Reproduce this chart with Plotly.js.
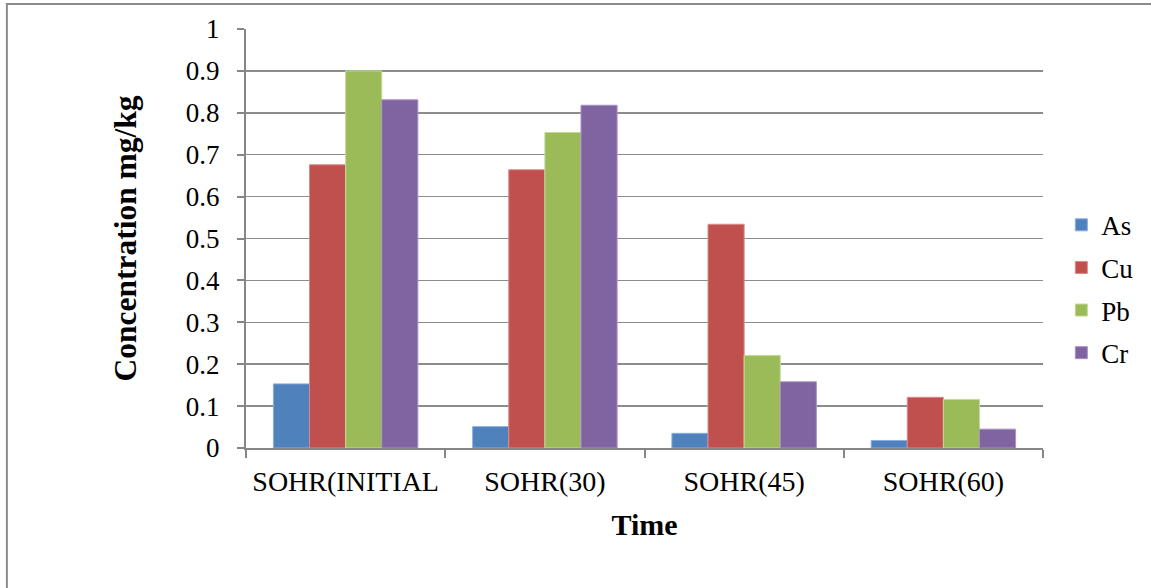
<!DOCTYPE html>
<html>
<head>
<meta charset="utf-8">
<script src="https://cdn.plot.ly/plotly-3.0.1.min.js"></script>
<style>
  html, body { margin: 0; padding: 0; background: #fff; }
  #chart { width: 1151px; height: 588px; }
</style>
</head>
<body>
<div id="chart"></div>
<script>
// Sampling times
const categories = ['SOHR(INITIAL', 'SOHR(30)', 'SOHR(45)', 'SOHR(60)'];

// Heavy-metal concentrations (mg/kg)
const asValues = [0.153, 0.051, 0.035, 0.018];
const cuValues = [0.676, 0.664, 0.534, 0.121];
const pbValues = [0.900, 0.753, 0.221, 0.116];
const crValues = [0.831, 0.818, 0.158, 0.045];

const seriesNames = ['As', 'Cu', 'Pb', 'Cr'];
const seriesValues = [asValues, cuValues, pbValues, crValues];
const fills = ['#4F81BD', '#C0504D', '#9BBB59', '#8064A2'];
const edges = ['#8aaee0', '#d98a88', '#c2da98', '#a993c6'];

const serif = '"Liberation Serif", "Times New Roman", serif';

const traces = seriesNames.map((name, i) => ({
  type: 'bar',
  name: name,
  x: categories,
  y: seriesValues[i],
  legendgroup: name,
  marker: { color: fills[i], line: { color: edges[i], width: 1 } },
  hoverinfo: 'x+y+name'
}));

const layout = {
  width: 1151,
  height: 588,
  margin: { l: 246, r: 105, t: 29, b: 140, pad: 0 },
  paper_bgcolor: '#ffffff',
  plot_bgcolor: '#ffffff',
  font: { family: serif, color: '#000', size: 27 },
  barmode: 'group',
  bargap: 0.275,
  bargroupgap: 0,
  showlegend: true,
  legend: {
    x: 1.023, xanchor: 'left',
    y: 0.38, yanchor: 'middle',
    font: { family: serif, size: 27, color: '#000' },
    traceorder: 'grouped',
    tracegroupgap: 4.5,
    itemwidth: 30,
    bgcolor: 'rgba(0,0,0,0)'
  },
  xaxis: {
    type: 'category',
    showline: true,
    linecolor: '#868686',
    linewidth: 2,
    ticks: 'outside',
    tickson: 'boundaries',
    ticklen: 8,
    tickwidth: 2,
    tickcolor: '#868686',
    showgrid: false,
    tickfont: { family: serif, size: 28, color: '#000' },
    ticklabelstandoff: 7,
    title: {
      text: '<b>Time</b>',
      font: { family: serif, size: 30, color: '#000' },
      standoff: 18
    },
    automargin: false
  },
  yaxis: {
    range: [0, 1],
    dtick: 0.1,
    tick0: 0,
    showline: true,
    linecolor: '#868686',
    linewidth: 2,
    ticks: 'outside',
    ticklen: 7,
    tickwidth: 2,
    tickcolor: '#868686',
    showgrid: true,
    gridcolor: '#8c8c8c',
    gridwidth: 1.5,
    zeroline: false,
    tickfont: { family: serif, size: 27, color: '#000' },
    ticklabelstandoff: 12,
    title: {
      text: '<b>Concentration mg/kg</b>',
      font: { family: serif, size: 31.5, color: '#000' },
      standoff: 40
    },
    automargin: false
  },
  shapes: [
    // outer chart frame
    {
      type: 'rect', xref: 'paper', yref: 'paper',
      x0: -0.30, x1: 1.2, y0: -0.5, y1: 1.0597,
      line: { color: '#8c8c8c', width: 2 },
      fillcolor: 'rgba(0,0,0,0)',
      layer: 'below'
    }
  ]
};

Plotly.newPlot('chart', traces, layout, { displayModeBar: false, staticPlot: true });
</script>
</body>
</html>
